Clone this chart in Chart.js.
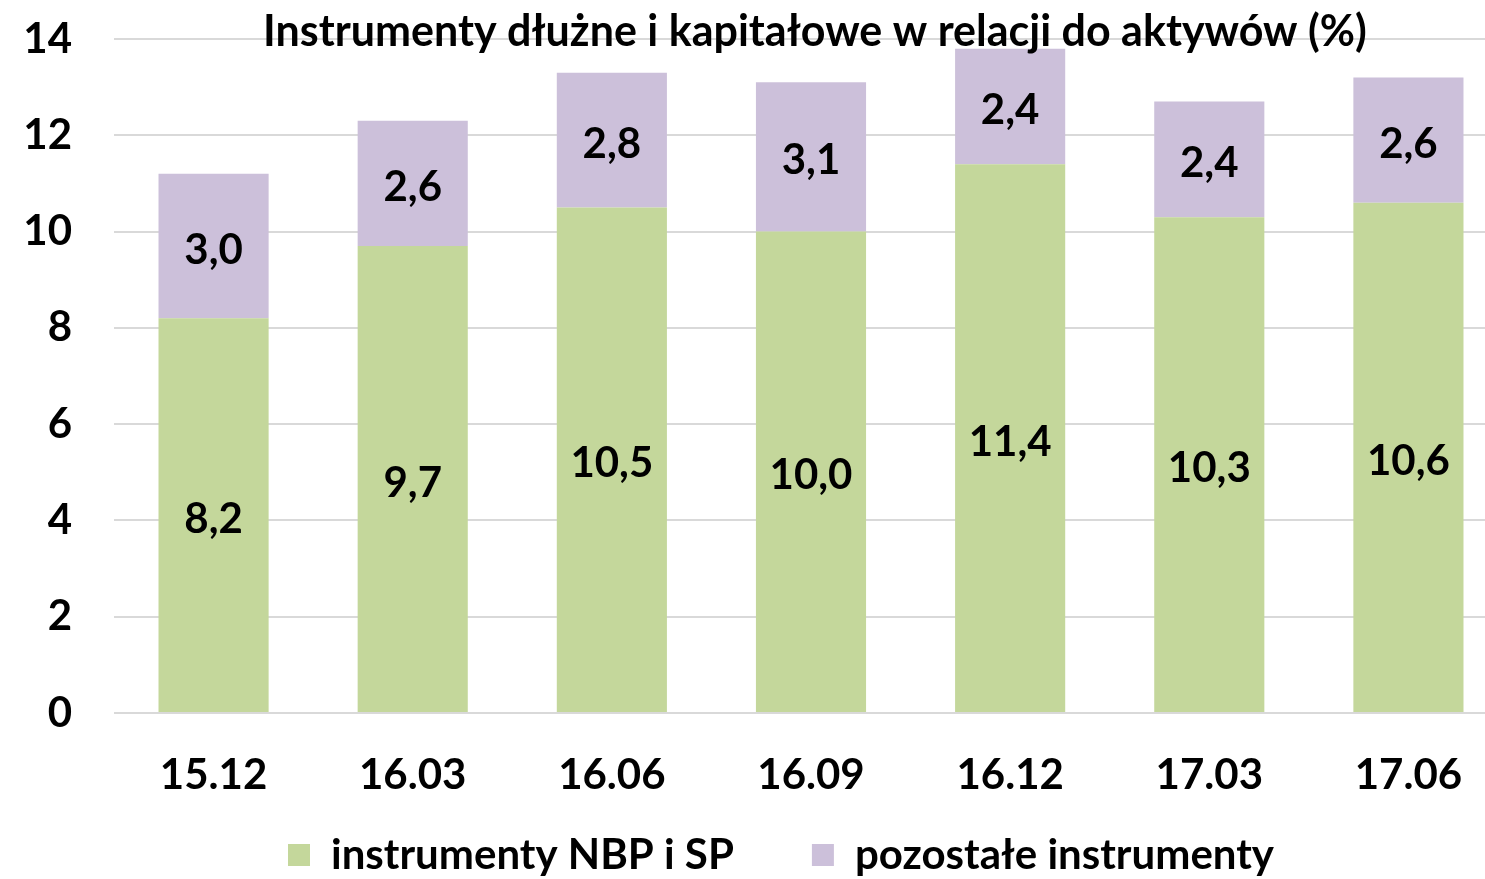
<!DOCTYPE html>
<html>
<head>
<meta charset="utf-8">
<script src="https://cdn.jsdelivr.net/npm/chart.js@4/dist/chart.umd.min.js"></script>
<style>
  html, body { margin: 0; padding: 0; background: #fff; overflow: hidden; }
  #wrap { width: 1485px; height: 879px; overflow: hidden; }
</style>
</head>
<body>
<!-- obszar wykresu w oryginale wychodzi poza prawy brzeg -->
<div id="wrap"><canvas id="debtChart" width="1508" height="879"></canvas></div>
<script>
const labels = ["15.12", "16.03", "16.06", "16.09", "16.12", "17.03", "17.06"];
const nbpSp = [8.2, 9.7, 10.5, 10.0, 11.4, 10.3, 10.6];
const others = [3.0, 2.6, 2.8, 3.1, 2.4, 2.4, 2.6];
const yTicks = [0, 2, 4, 6, 8, 10, 12, 14];
const titleText = "Instrumenty dłużne i kapitałowe w relacji do aktywów (%)";

const FONT = "Lato, 'Open Sans', sans-serif";
const X_AXIS_H = 92;
const LEGEND_H = 879 - 713 - X_AXIS_H;

// tytul, etykiety wartosci i przesuniecie legendy
const labelPlugin = {
    id: "valueLabels",
    beforeInit(chart) {
        const fit = chart.legend.fit;
        chart.legend.fit = function () {
            fit.call(this);
            this.height = LEGEND_H;
        };
    },
    afterLayout(chart) {
        chart.legend.left = 54;
        chart.legend.top = 756;
    },
    afterDatasetsDraw(chart) {
        const ctx = chart.ctx;
        ctx.save();
        ctx.font = "bold 42px " + FONT;
        ctx.fillStyle = "#000";
        ctx.textAlign = "center";
        ctx.textBaseline = "middle";
        chart.data.datasets.forEach((ds, i) => {
            const meta = chart.getDatasetMeta(i);
            meta.data.forEach((bar, j) => {
                const mid = (bar.y + bar.base) / 2 + 4;
                ctx.fillText(ds.data[j].toFixed(1).replace(".", ","), bar.x, mid);
            });
        });
        // tytul nachodzi na obszar wykresu
        ctx.font = "bold 43px " + FONT;
        ctx.fillText(titleText, 815, 32);
        ctx.restore();
    }
};

const ctx = document.getElementById("debtChart").getContext("2d");
const chart = new Chart(ctx, {
    type: "bar",
    data: {
        labels: labels,
        datasets: [{
            label: "instrumenty NBP i SP",
            data: nbpSp,
            backgroundColor: "#c4d79b",
            barPercentage: 0.553,
            categoryPercentage: 1
        }, {
            label: "pozostałe instrumenty",
            data: others,
            backgroundColor: "#ccc0da",
            barPercentage: 0.553,
            categoryPercentage: 1
        }]
    },
    options: {
        responsive: false,
        animation: false,
        layout: { padding: { top: 39, left: 0, right: 0, bottom: 0 } },
        scales: {
            x: {
                stacked: true,
                grid: { display: false },
                border: { display: false },
                afterFit: (scale) => {
                    scale.height = X_AXIS_H;
                    scale.paddingLeft = 0;
                    scale.paddingRight = 0;
                },
                ticks: { color: "#000", font: { family: FONT, size: 42, weight: "bold" }, padding: 29 }
            },
            y: {
                stacked: true,
                min: 0,
                max: 14,
                afterBuildTicks: (scale) => { scale.ticks = yTicks.map(v => ({ value: v })); },
                afterFit: (scale) => {
                    scale.width = 114;
                    scale.paddingTop = 0;
                    scale.paddingBottom = 0;
                },
                grid: { color: "#d9d9d9", lineWidth: 2, drawTicks: false },
                border: { display: false },
                ticks: { color: "#000", font: { family: FONT, size: 42, weight: "bold" }, padding: 42 }
            }
        },
        plugins: {
            title: { display: false },
            tooltip: { enabled: false },
            legend: {
                position: "bottom",
                labels: {
                    color: "#000",
                    font: { family: FONT, size: 42, weight: "bold" },
                    boxWidth: 22,
                    boxHeight: 22,
                    padding: 78
                }
            }
        }
    },
    plugins: [labelPlugin]
});
</script>
</body>
</html>
